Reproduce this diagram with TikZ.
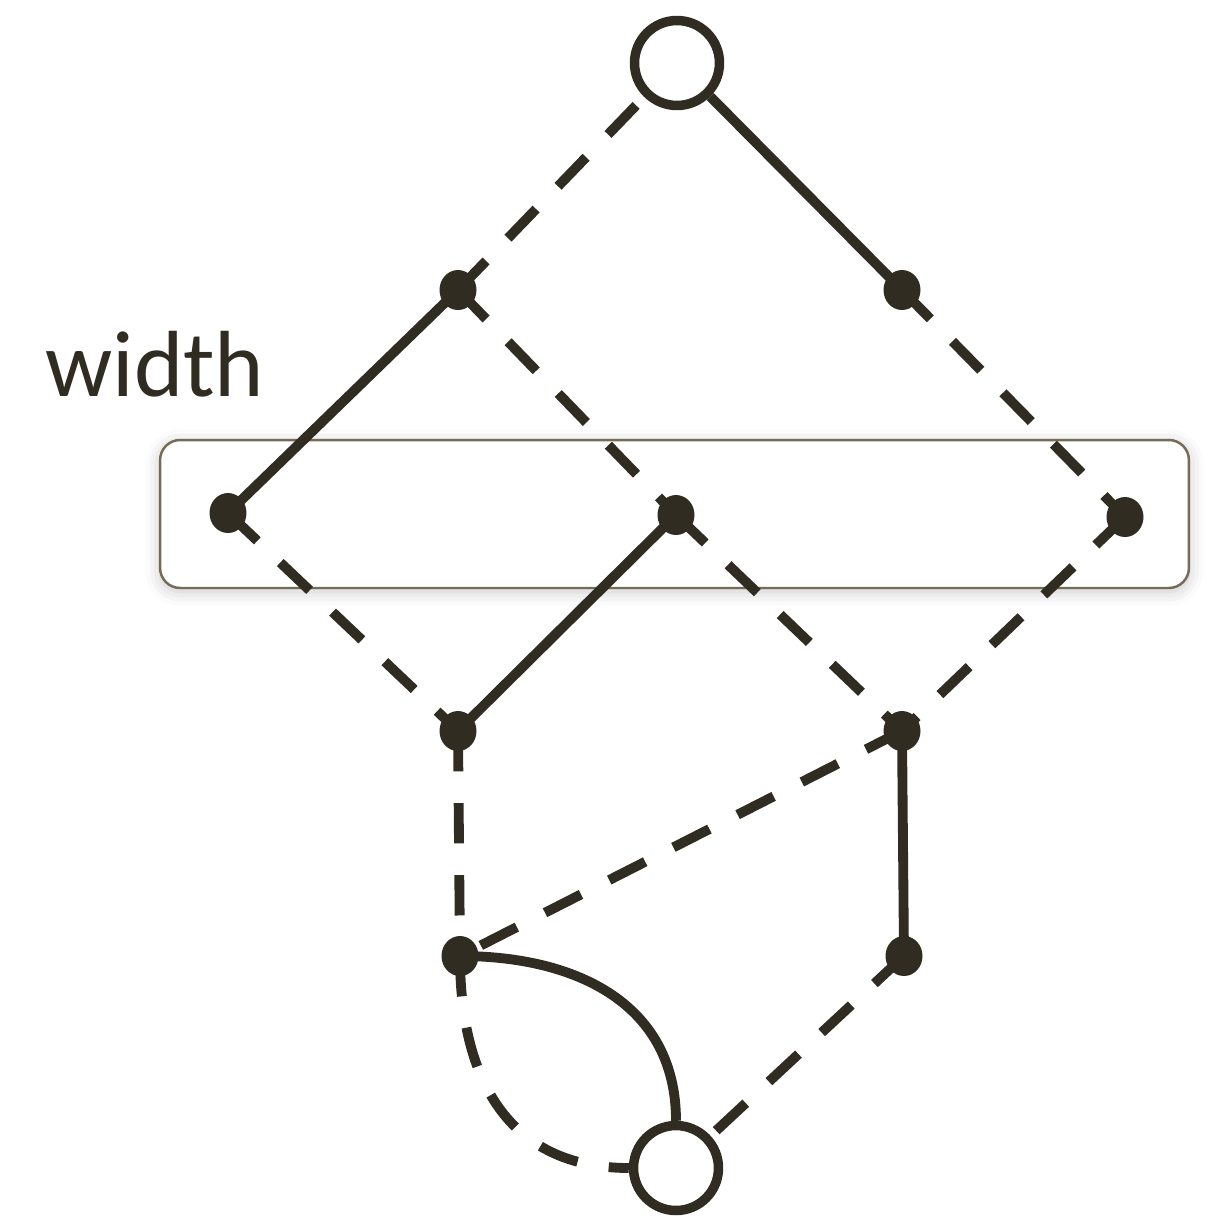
\documentclass[tikz,border=0pt]{standalone}
\usepackage{fontspec}
\setmainfont{Carlito}
\usetikzlibrary{shapes.geometric, backgrounds, shadows.blur}
\definecolor{ink}{RGB}{49,44,33}
\definecolor{frame}{RGB}{118,108,86}

\tikzset{
  term/.style={circle, draw=ink, line width=5.4pt, fill=white, minimum size=1.7cm, inner sep=0pt},
  dot/.style={ellipse, fill=ink, minimum width=0.74cm, minimum height=0.8cm, inner sep=0pt},
  hiedge/.style={draw=ink, line width=5.6pt},
  loedge/.style={draw=ink, line width=5.6pt, dash pattern=on 23pt off 18pt},
  levelbox/.style={rectangle, rounded corners=0.4cm, draw=frame, line width=1.4pt, fill=white,
    minimum width=20.58cm, minimum height=2.96cm,
    blur shadow={shadow xshift=0pt, shadow yshift=-2pt, shadow blur radius=8pt, shadow opacity=22}}
}

\begin{document}
\begin{tikzpicture}[x=0.02cm, y=-0.02cm]
  \useasboundingbox (0,0) rectangle (1219,1221);

  % nodes
  \node[term] (top) at (677,63) {};
  \node[dot] (l1a) at (458,290) {};
  \node[dot] (l1b) at (902,290) {};
  \node[dot] (l2a) at (228,513) {};
  \node[dot] (l2b) at (676,515) {};
  \node[dot] (l2c) at (1125,517) {};
  \node[dot] (l3a) at (458,731) {};
  \node[dot] (l3b) at (902,731) {};
  \node[dot] (l4a) at (460,956) {};
  \node[dot] (l4b) at (904,956) {};
  \node[term] (bot) at (676,1168) {};

  \node[anchor=base west, inner sep=0pt, text=ink, font=\fontsize{53.5}{62}\selectfont] (lbl) at (45,396) {width};

  \begin{scope}[on background layer]
    \node[levelbox] (wbox) at (674.5,514) {};

    % edges
    \draw[loedge] (l1a.center) -- (top);
    \draw[hiedge] (top) -- (l1b.center);
    \draw[hiedge] (l1a.center) -- (l2a.center);
    \draw[loedge] (l1a.center) -- (l2b.center);
    \draw[loedge] (l1b.center) -- (l2c.center);
    \draw[loedge] (l2a.center) -- (l3a.center);
    \draw[hiedge] (l2b.center) -- (l3a.center);
    \draw[loedge] (l2b.center) -- (l3b.center);
    \draw[loedge] (l2c.center) -- (l3b.center);
    \draw[loedge] (l3a.center) -- (l4a.center);
    \draw[loedge] (l3b.center) -- (l4a.center);
    \draw[hiedge] (l3b.center) -- (l4b.center);
    \draw[hiedge] (l4a.center) to[out=0, in=90, looseness=1.1] (bot);
    \draw[loedge] (l4a.center) to[out=-90, in=180, looseness=1.15] (bot);
    \draw[loedge] (l4b.center) -- (bot);
  \end{scope}
\end{tikzpicture}
\end{document}
